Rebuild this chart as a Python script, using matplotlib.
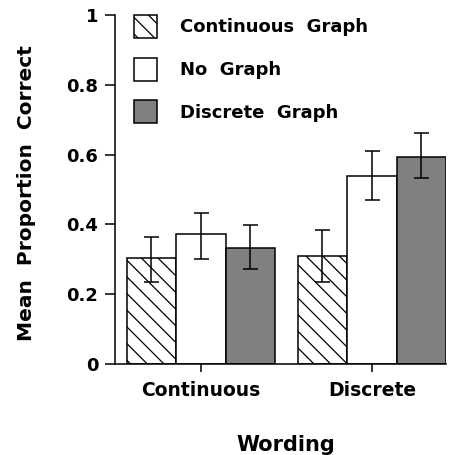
import numpy as np
import matplotlib
matplotlib.use("Agg")
import matplotlib.pyplot as plt

plt.rcParams["hatch.linewidth"] = 0.9
plt.rcParams["hatch.color"] = "#3a3a3a"

FONT = "DejaVu Sans"

wording = ["Continuous", "Discrete"]
conditions = ["Continuous  Graph", "No  Graph", "Discrete  Graph"]

# mean proportion correct per condition, per wording group
means = {
    "Continuous  Graph": [0.303, 0.309],
    "No  Graph": [0.372, 0.539],
    "Discrete  Graph": [0.333, 0.594],
}
err_low = {
    "Continuous  Graph": [0.234, 0.234],
    "No  Graph": [0.302, 0.471],
    "Discrete  Graph": [0.273, 0.533],
}
err_high = {
    "Continuous  Graph": [0.365, 0.383],
    "No  Graph": [0.434, 0.610],
    "Discrete  Graph": [0.397, 0.663],
}

styles = {
    "Continuous  Graph": dict(facecolor="white", hatch="\\\\"),
    "No  Graph": dict(facecolor="white", hatch=None),
    "Discrete  Graph": dict(facecolor="#808080", hatch=None),
}

fig = plt.figure(figsize=(4.5, 4.55), dpi=100, facecolor="white")
ax = fig.add_axes([0.2556, 0.2, 0.7356, 0.767])

x = np.arange(len(wording))
w = 0.289
for i, cond in enumerate(conditions):
    m = np.array(means[cond])
    lo = m - np.array(err_low[cond])
    hi = np.array(err_high[cond]) - m
    ax.bar(x + (i - 1) * w, m, w, edgecolor="black", linewidth=1.1,
           label=cond, zorder=2, **styles[cond])
    ax.errorbar(x + (i - 1) * w, m, yerr=[lo, hi], fmt="none", ecolor="black",
                elinewidth=1.1, capsize=5.4, capthick=1.1, zorder=3)

ax.set_xlim(-0.5015, 1.434)
ax.set_ylim(0, 1)
ax.set_yticks([0, 0.2, 0.4, 0.6, 0.8, 1])
ax.set_yticklabels(["0", "0.2", "0.4", "0.6", "0.8", "1"])
ax.set_xticks(x)
ax.set_xticklabels(wording)

for s in ("top", "right"):
    ax.spines[s].set_visible(False)
for s in ("left", "bottom"):
    ax.spines[s].set_linewidth(1.1)

ax.tick_params(axis="y", length=7, width=1.1, labelsize=13, pad=5)
ax.tick_params(axis="x", length=6, width=1.1, labelsize=13.5, pad=6)
for lab in ax.get_xticklabels() + ax.get_yticklabels():
    lab.set_fontweight("bold")
    lab.set_family(FONT)

ax.set_ylabel("Mean  Proportion  Correct", fontsize=14.5, fontweight="bold",
              family=FONT)
ax.yaxis.set_label_coords(-0.239, 0.49)
ax.set_xlabel("Wording", fontsize=15, fontweight="bold", family=FONT)
ax.xaxis.set_label_coords(0.515, -0.203)

leg = ax.legend(loc="upper left", bbox_to_anchor=(0.057, 1.0), frameon=False,
                handlelength=1.28, handleheight=1.59, labelspacing=1.08,
                handletextpad=1.28, borderaxespad=0, borderpad=0,
                prop=dict(family=FONT, weight="bold", size=13))

fig.savefig("out.png", dpi=100, facecolor="white")
